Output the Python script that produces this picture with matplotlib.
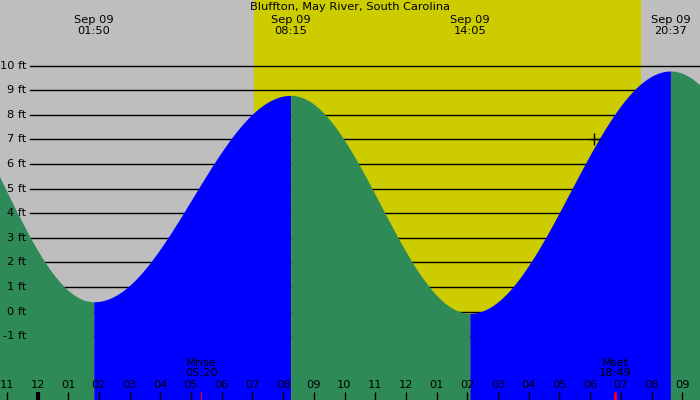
import numpy as np
import matplotlib
matplotlib.use("Agg")
import matplotlib.pyplot as plt
import matplotlib.transforms as mtransforms

# %% DATA (hours counted from midnight Sep 09)
title = "Bluffton, May River, South Carolina"
extreme_hours = [-4.083, 1.833, 8.25, 14.083, 20.617, 26.75]
extreme_ft = [10.0, 0.40, 8.79, -0.07, 9.78, 0.10]
extreme_labels = ["", "Sep 09\n01:50", "Sep 09\n08:15", "Sep 09\n14:05", "Sep 09\n20:37", ""]
sunrise, sunset = 7.05, 19.63
moon_hours = [5.333, 18.817]
moon_labels = ["Mrise\n05:20", "Mset\n18:49"]
marker_hour, marker_ft = 18.13, 7.0
ft_levels = list(range(-1, 11))
hour_ticks = list(range(-1, 22))

# colours
C_NIGHT = "#bebebe"
C_DAY = "#cccc00"
C_RISE = "#0000ff"
C_FALL = "#2e8b57"

# pixel calibration of the original: x = 37.5 + 30.7*h, y = 311.6 - 24.6*ft
X0, XS = 37.5, 30.7
Y0, YS = 311.6, 24.6
W, H = 700, 400
FS = 8.2
xlim = ((0 - X0) / XS, (W - X0) / XS)
ylim = ((Y0 - H) / YS, Y0 / YS)

fig = plt.figure(figsize=(7, 4), dpi=100, facecolor=C_NIGHT)
ax = fig.add_axes([0, 0, 1, 1])
ax.set_facecolor(C_NIGHT)
ax.set_xlim(*xlim)
ax.set_ylim(*ylim)
ax.axis("off")

# daylight
ax.axvspan(sunrise, sunset, color=C_DAY, zorder=1)

# ft grid lines + labels
blend = mtransforms.blended_transform_factory(ax.transAxes, ax.transData)
for f in ft_levels:
    ax.axhline(f, xmin=29.5 / W, xmax=1, color="black", lw=1.0, zorder=2)
    ax.text(26 / W, f, f"{f} ft", transform=blend, ha="right", va="center",
            fontsize=FS, color="black", zorder=5)

# tide curve, cosine shape between each pair of extremes
for i in range(len(extreme_hours) - 1):
    t0, t1 = extreme_hours[i], extreme_hours[i + 1]
    a, b = extreme_ft[i], extreme_ft[i + 1]
    t = np.linspace(t0, t1, 200)
    v = (a + b) / 2 + (a - b) / 2 * np.cos(np.pi * (t - t0) / (t1 - t0))
    col = C_RISE if b > a else C_FALL
    ax.fill_between(t, v, ylim[0], color=col, lw=0, zorder=3)

# top labels at high / low times
top = mtransforms.blended_transform_factory(ax.transData, ax.transAxes)
for h, lab in zip(extreme_hours, extreme_labels):
    if lab and xlim[0] < h < xlim[1]:
        ax.text(h, 1 - 25.5 / H, lab, transform=top, ha="center", va="center",
                fontsize=FS, linespacing=1.12, zorder=6)

ax.text(0.5, 1 - 7.5 / H, title, transform=ax.transAxes, ha="center",
        va="center", fontsize=FS, zorder=6)

# bottom hour ticks
for h in hour_ticks:
    lab = f"{(h % 12) or 12:02d}"
    ax.text(h, 14.5 / H, lab, transform=top, ha="center", va="center",
            fontsize=FS, zorder=6)
    lw = 3 if h % 24 == 0 else 1
    ax.plot([h, h], [0, 8 / H], transform=top, color="black", lw=lw,
            solid_capstyle="butt", zorder=6)

# moon rise / set
for h, lab, lw in zip(moon_hours, moon_labels, [0.8, 2]):
    ax.text(h, 1 - 368 / H, lab, transform=top, ha="center", va="center",
            fontsize=FS, linespacing=1.12, zorder=6)
    ax.plot([h, h], [0, 8 / H], transform=top, color="red", lw=lw,
            solid_capstyle="butt", zorder=7)

ax.plot(marker_hour, marker_ft, marker="+", color="black", ms=9, mew=1,
        zorder=6)

fig.savefig("out.png", dpi=100, facecolor=C_NIGHT)
